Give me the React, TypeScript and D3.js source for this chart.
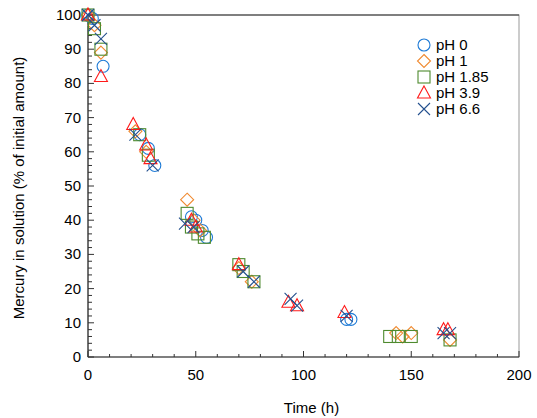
import * as d3 from "d3";

const seriesNames = ["pH 0", "pH 1", "pH 1.85", "pH 3.9", "pH 6.6"];
const colors = ["#1f7bd6", "#f08a30", "#4e8a2e", "#ff1a1a", "#24508e"];
const ph0 = [[0,100],[2,99],[7,85],[24,65],[28,61],[31,56],[48,41],[50,40],[53,37],[55,35],[120,11],[122,11]];
const ph1 = [[0,100],[3,97],[6,89],[22,66],[27,60],[46,46],[49,40],[52,37],[70,26],[76,22],[143,7],[146,6],[150,7],[168,5]];
const ph185 = [[0,100],[3,96],[6,90],[24,65],[28,59],[46,42],[48,38],[51,36],[54,35],[70,27],[72,25],[77,22],[140,6],[144,6],[150,6],[168,5]];
const ph39 = [[0,100],[6,82],[21,68],[27,62],[29,58],[48,40],[50,38],[70,27],[93,16],[97,15],[119,13],[165,8],[167,8]];
const ph66 = [[0,100],[3,97],[6,93],[22,65],[30,56],[45,39],[49,38],[72,25],[77,22],[94,17],[97,15],[120,12],[165,7],[168,7]];
const seriesData = [ph0, ph1, ph185, ph39, ph66];
const xTicks = [0, 50, 100, 150, 200];
const yTicks = [0, 10, 20, 30, 40, 50, 60, 70, 80, 90, 100];

function Marker({ i, x, y }: { i: number; x: number; y: number }) {
  const c = colors[i];
  const p = { fill: "none", stroke: c, strokeWidth: 1.1 };
  if (i === 0) return <circle cx={x} cy={y} r={6} {...p} />;
  if (i === 1) return <path d={`M${x},${y - 6.5}L${x + 6.5},${y}L${x},${y + 6.5}L${x - 6.5},${y}Z`} {...p} />;
  if (i === 2) return <rect x={x - 6} y={y - 6} width={12} height={12} {...p} />;
  if (i === 3) return <path d={`M${x},${y - 7}L${x + 6.5},${y + 5}L${x - 6.5},${y + 5}Z`} {...p} />;
  return <path d={`M${x - 6},${y - 6}L${x + 6},${y + 6}M${x + 6},${y - 6}L${x - 6},${y + 6}`} {...p} />;
}

export default function App() {
  const W = 537, H = 418;
  const m = { left: 88, right: 519, top: 15, bottom: 357 };
  const x = d3.scaleLinear().domain([0, 200]).range([m.left, m.right]);
  const y = d3.scaleLinear().domain([0, 100]).range([m.bottom, m.top]);
  const minor = d3.range(0, 101, 2);
  const xMinor = d3.range(0, 201, 10);
  const font = "Arial, 'Liberation Sans', sans-serif";
  return (
    <svg width={W} height={H} style={{ position: "absolute", left: 0, top: 0 }} fontFamily={font}>
      <rect x={m.left} y={m.top} width={m.right - m.left} height={m.bottom - m.top} fill="none" stroke="#999" strokeWidth={1} />
      <line x1={m.left} x2={m.right} y1={m.top} y2={m.top} stroke="#333" />
      <line x1={m.left} x2={m.left} y1={m.top} y2={m.bottom} stroke="#333" strokeWidth={1.2} />
      <line x1={m.left} x2={m.right} y1={m.bottom} y2={m.bottom} stroke="#333" strokeWidth={1.2} />
      {minor.map(t => (
        <line key={"ym" + t} x1={m.left} x2={m.left + (t % 10 === 0 ? 6 : 4)} y1={y(t)} y2={y(t)} stroke="#333" />
      ))}
      {xMinor.map(t => (
        <line key={"xm" + t} x1={x(t)} x2={x(t)} y1={m.bottom} y2={m.bottom - (t % 50 === 0 ? 6 : 3)} stroke="#333" />
      ))}
      {yTicks.map(t => (
        <text key={"y" + t} x={m.left - 7} y={y(t) + 5} textAnchor="end" fontSize={15}>{t}</text>
      ))}
      {xTicks.map(t => (
        <text key={"x" + t} x={x(t)} y={m.bottom + 23} textAnchor="middle" fontSize={15}>{t}</text>
      ))}
      <text x={(m.left + m.right) / 2 + 8} y={413} textAnchor="middle" fontSize={15}>Time (h)</text>
      <text transform={`translate(24,${(m.top + m.bottom) / 2 + 2}) rotate(-90)`} textAnchor="middle" fontSize={15}>
        Mercury in solution (% of initial amount)
      </text>
      {seriesData.map((s, i) =>
        s.map((d, j) => <Marker key={i + "-" + j} i={i} x={x(d[0])} y={y(d[1])} />)
      )}
      {seriesNames.map((n, i) => (
        <g key={n}>
          <Marker i={i} x={424} y={45 + i * 16} />
          <text x={436} y={50 + i * 16} fontSize={15}>{n}</text>
        </g>
      ))}
    </svg>
  );
}
